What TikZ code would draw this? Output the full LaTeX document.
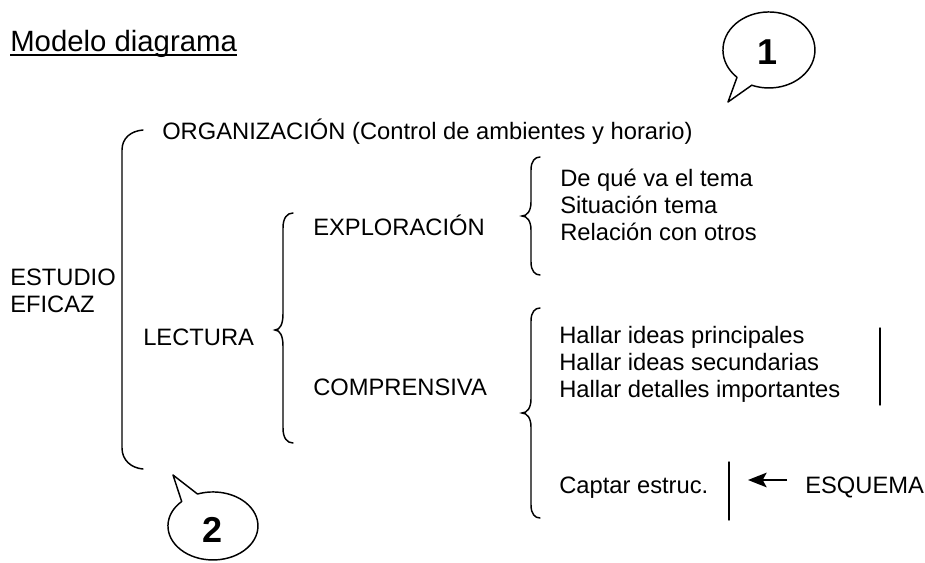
\documentclass[tikz,border=0pt]{standalone}
\usepackage{fontspec}
\setmainfont{Liberation Sans}
\usetikzlibrary{arrows.meta,calc}

\begin{document}
\begin{tikzpicture}[x=0.75pt,y=0.75pt,yscale=-1,xscale=1,
  txt/.style={anchor=base west,inner sep=0pt,align=left,font=\fontsize{17.8}{20.1}\selectfont},
  stroke/.style={line width=1.1pt,line cap=round},
  bubble/.style={line width=1.1pt,line join=round},
  num/.style={inner sep=0pt,font=\fontsize{27}{30}\selectfont\bfseries}]
\useasboundingbox (0,0) rectangle (925,563);

% Text Node
\node [txt,font=\fontsize{22}{26}\selectfont] (title) at (10,52) {Modelo diagrama};
\draw [line width=1.5pt] ($(title.base west)+(0,3)$) -- ($(title.base east)+(0,3)$);
% Text Node
\node [txt] (organizacion) at (162,140) {ORGANIZACIÓN (Control de ambientes y horario)};
% Text Node (base on last line)
\node [txt] (estudio) at (10,312) {ESTUDIO\\EFICAZ};
% Text Node
\node [txt] (lectura) at (143,345) {LECTURA};
% Text Node
\node [txt] (exploracion) at (313,235) {EXPLORACIÓN};
% Text Node
\node [txt] (comprensiva) at (313,395) {COMPRENSIVA};
% Text Node (base on last line)
\node [txt] (tema) at (560,240) {De qué va el tema\\Situación tema\\Relación con otros};
% Text Node (base on last line)
\node [txt] (ideas) at (559,397) {Hallar ideas principales\\Hallar ideas secundarias\\Hallar detalles importantes};
% Text Node
\node [txt] (captar) at (559,493) {Captar estruc.};
% Text Node
\node [txt] (esquema) at (805,493) {ESQUEMA};

%Shape: Brace
\draw [stroke] (143,130) .. controls (131,131) and (122,138) .. (122,150) -- (122,448) .. controls (122,460) and (131,468) .. (143,469);
%Shape: Brace
\draw [stroke] (293,213) .. controls (287,213) and (283,218) .. (283,228) -- (283,314) .. controls (283,324) and (280,330) .. (275,330) .. controls (280,330) and (283,336) .. (283,346) -- (283,428) .. controls (283,438) and (287,443) .. (293,443);
%Shape: Brace
\draw [stroke] (540,157) .. controls (535,157) and (531,161) .. (531,170) -- (531,202) .. controls (531,211) and (527,216) .. (522,216) .. controls (527,216) and (531,221) .. (531,230) -- (531,262) .. controls (531,271) and (535,275) .. (540,275);
%Shape: Brace
\draw [stroke] (540,308) .. controls (535,308) and (531,312) .. (531,321) -- (531,399) .. controls (531,408) and (527,413) .. (522,413) .. controls (527,413) and (531,418) .. (531,427) -- (531,505) .. controls (531,514) and (535,518) .. (540,518);

%Straight Lines
\draw [stroke] (880,328) -- (880,405);
%Straight Lines
\draw [stroke] (729,462) -- (729,520);
%Straight Lines
\coordinate (tip) at (748,480);
\draw [line width=1.3pt,-{Stealth[length=14pt,width=11pt,inset=3pt]}] ($(esquema.base west |- tip)+(-18,0)$) -- (tip);

%Shape: Speech Bubble
\draw [bubble] (751.8,85.2) -- (728,102) -- (737.0,77.3) arc [start angle=134,end angle=472,x radius=46,y radius=38] -- cycle;
\node [num] (one) at (768,52) {1};
%Shape: Speech Bubble
\draw [bubble] (197.6,494.1) -- (173,475) -- (181.7,501.5) arc [start angle=226,end angle=-110,x radius=45,y radius=34] -- cycle;
\node [num] (two) at (213,530) {2};

\end{tikzpicture}
\end{document}
